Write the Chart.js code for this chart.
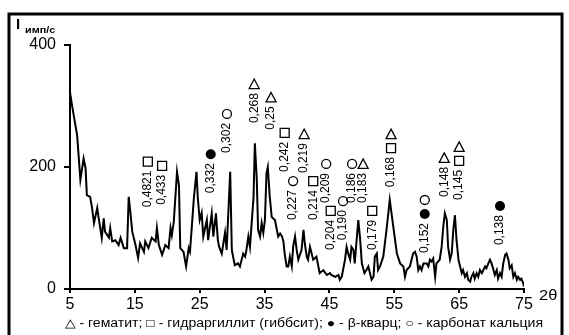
<!DOCTYPE html>
<html>
<head>
<meta charset="utf-8">
<script src="https://cdn.jsdelivr.net/npm/chart.js@4/dist/chart.umd.min.js"></script>
<style>
  html, body { margin: 0; padding: 0; background: #fff; }
  canvas { display: block; }
</style>
</head>
<body>
<canvas id="xrd" width="569" height="335"></canvas>
<script>
const twoTheta = [5.0,5.3,6.1,6.6,7.1,7.4,7.6,8.1,8.4,8.7,
  9.2,9.4,9.9,10.2,10.4,11.0,11.2,11.5,12.0,12.5,
  12.8,13.3,13.8,14.05,14.3,14.6,15.1,15.5,15.8,16.4,
  16.6,17.1,17.6,18.2,18.4,18.7,19.2,19.7,20.2,20.5,
  20.7,21.0,21.5,21.8,22.0,22.5,22.9,23.3,23.5,24.1,
  24.5,24.7,25.0,25.3,25.55,26.1,26.3,26.85,27.1,27.5,
  27.8,28.0,28.4,28.9,29.15,29.7,29.95,30.4,30.9,31.2,
  31.7,32.0,32.2,32.5,32.75,33.3,33.5,33.8,34.0,34.3,
  34.55,34.8,35.05,35.3,35.5,35.8,36.1,36.6,36.9,37.1,
  37.4,37.7,37.9,38.1,38.4,38.65,38.9,39.2,39.4,39.7,
  39.95,40.2,40.7,41.0,41.2,41.5,41.7,42.0,42.5,43.0,
  43.5,44.05,44.6,45.1,45.3,45.9,46.4,46.6,46.9,47.4,
  47.65,47.9,48.2,48.4,48.7,48.9,49.45,49.7,50.0,50.4,
  50.7,51.0,51.25,51.5,51.8,52.0,52.3,52.5,52.8,53.3,
  53.8,54.3,54.85,55.4,55.9,56.4,56.65,56.9,57.4,57.9,
  58.2,58.45,58.7,58.95,59.2,59.5,60.0,60.25,60.5,60.75,
  61.0,61.3,61.5,62.0,62.3,62.55,62.8,63.1,63.3,63.6,
  63.85,64.1,64.35,64.6,64.9,65.4,65.6,65.9,66.2,66.4,
  66.7,66.9,67.2,67.4,67.7,67.95,68.2,68.5,69.0,69.2,
  69.5,69.75,70.0,70.3,70.5,70.8,71.0,71.3,71.55,71.8,
  72.1,72.3,72.6,72.8,73.1,73.35,73.6,73.9,74.1,74.4,
  74.6,74.9,75.0];

const intensity = [323,302,252,179,214,198,154,151,133,108,
  133,118,84,116,94,84,100,78,80,72,
  84,67,67,151,127,94,72,51,75,61,
  78,67,84,78,100,72,56,72,67,100,
  88,110,192,170,67,61,37,67,61,149,
  192,150,113,125,86,113,80,124,86,124,
  80,69,58,92,64,192,64,39,42,37,
  58,53,64,86,69,151,239,179,97,86,
  108,92,113,190,200,151,118,113,97,86,
  91,86,78,58,37,37,53,37,69,86,
  64,48,64,97,75,53,48,69,48,53,
  26,31,23,26,23,20,23,15,20,48,
  69,58,48,69,64,42,113,86,42,26,
  31,37,26,15,20,53,58,31,37,53,
  97,146,102,58,42,37,20,31,37,58,
  61,53,31,37,31,42,42,37,48,45,
  50,20,42,48,69,102,124,113,69,48,
  58,97,121,80,48,26,31,20,26,15,
  12,20,26,17,26,20,31,26,37,34,
  42,48,42,31,23,31,17,26,20,42,
  56,58,48,34,39,20,26,15,20,15,
  17,9,4];

const xTickValues = [5, 15, 25, 35, 45, 55, 65, 75];
const yTickValues = [0, 200, 400];

// d-spacing labels: position (2θ), intensity where the text starts, text, phase marks (top to bottom)
const peakPos   = [17.0, 19.2, 26.7, 29.2, 33.4, 36.0, 38.1, 41.1, 39.4, 42.5, 44.5, 45.2, 47.1, 48.5, 50.2, 51.6, 54.5, 59.7, 62.7, 65.0, 71.3];
const peakBase  = [134, 138, 157, 223, 272, 261, 192, 190, 113, 113, 141, 64, 80, 141, 141, 64, 167, 59, 151, 146, 72];
const peakText  = ['0,4821', '0,433', '0,332', '0,302', '0,268', '0,25', '0,242', '0,219', '0,227', '0,214', '0,209',
                   '0,204', '0,190', '0,186', '0,183', '0,179', '0,168', '0,152', '0,148', '0,145', '0,138'];
const peakPhase = [['sq'], ['sq'], ['dot'], ['circ'], ['tri'], ['tri'], ['sq'], ['tri'], ['circ'], ['sq'], ['circ'],
                   ['sq'], ['circ'], ['circ'], ['tri'], ['sq'], ['tri', 'sq'], ['circ', 'dot'], ['tri'], ['tri', 'sq'], ['dot']];

const legendText = '△ - гематит; □ - гидраргиллит (гиббсит); ● - β-кварц; ○ - карбонат кальция';

const FONT = 'Arial, "Liberation Sans", sans-serif';

function drawMark(ctx, kind, x, y) {
    ctx.save();
    ctx.strokeStyle = '#000';
    ctx.fillStyle = '#000';
    ctx.lineWidth = 1.3;
    ctx.beginPath();
    if (kind === 'sq') {
        ctx.rect(x - 4.5, y - 4.5, 9, 9);
        ctx.stroke();
    } else if (kind === 'tri') {
        ctx.moveTo(x, y - 5);
        ctx.lineTo(x + 5, y + 4.5);
        ctx.lineTo(x - 5, y + 4.5);
        ctx.closePath();
        ctx.stroke();
    } else if (kind === 'dot') {
        ctx.arc(x, y, 5, 0, Math.PI * 2);
        ctx.fill();
    } else {
        ctx.arc(x, y, 4.5, 0, Math.PI * 2);
        ctx.stroke();
    }
    ctx.restore();
}

// text slightly widened, like the source picture
function wideText(ctx, text, x, y, sx) {
    ctx.save();
    ctx.translate(x, y);
    ctx.scale(sx, 1);
    ctx.fillText(text, 0, 0);
    ctx.restore();
}

const framePlugin = {
    id: 'frame',
    beforeDraw(chart) {
        const ctx = chart.ctx;
        ctx.save();
        ctx.fillStyle = '#fff';
        ctx.fillRect(0, 0, chart.width, chart.height);
        ctx.strokeStyle = '#000';
        ctx.lineWidth = 3;
        ctx.strokeRect(9, 14, 553, 340);
        ctx.restore();
    },
    afterDraw(chart) {
        const ctx = chart.ctx;
        const xs = chart.scales.x;
        const ys = chart.scales.y;
        ctx.save();
        ctx.fillStyle = '#000';

        // peak labels
        ctx.font = '12px ' + FONT;
        peakPos.forEach((pos, i) => {
            const x = xs.getPixelForValue(pos);
            const y = ys.getPixelForValue(peakBase[i]);
            const w = ctx.measureText(peakText[i]).width;
            ctx.save();
            ctx.translate(x, y);
            ctx.rotate(-Math.PI / 2);
            ctx.textAlign = 'left';
            ctx.textBaseline = 'middle';
            ctx.fillText(peakText[i], 0, 0);
            ctx.restore();
            let my = y - w - 9;
            for (let k = peakPhase[i].length - 1; k >= 0; k--) {
                drawMark(ctx, peakPhase[i][k], x, my);
                my -= 14;
            }
        });

        // axis captions
        ctx.textBaseline = 'alphabetic';
        ctx.textAlign = 'left';
        ctx.font = 'bold 15px ' + FONT;
        ctx.fillText('I', 16, 29);
        ctx.font = 'bold 9px ' + FONT;
        wideText(ctx, 'имп/с', 25, 33, 1.2);

        ctx.font = '15px ' + FONT;
        ctx.textBaseline = 'middle';
        wideText(ctx, '2θ', 539, 296, 1.1);

        ctx.font = '12px ' + FONT;
        wideText(ctx, legendText, 65, 324, 1.17);
        ctx.restore();
    }
};

const points = twoTheta.map((t, i) => ({ x: t, y: intensity[i] }));

new Chart(document.getElementById('xrd'), {
    type: 'line',
    data: {
        datasets: [
            {
                data: points,
                borderColor: '#000',
                borderWidth: 2,
                pointRadius: 0,
                tension: 0
            }
        ]
    },
    options: {
        responsive: false,
        animation: false,
        layout: {
            padding: { top: 45, right: 45, left: 0, bottom: 0 }
        },
        plugins: {
            legend: { display: false },
            tooltip: { enabled: false }
        },
        scales: {
            x: {
                type: 'linear',
                min: 5,
                max: 75,
                afterBuildTicks: (scale) => { scale.ticks = xTickValues.map(v => ({ value: v })); },
                afterFit: (scale) => { scale.height = 46; },
                ticks: { color: '#000', padding: 2, font: { family: FONT, size: 16 } },
                grid: { drawOnChartArea: false, color: '#000', lineWidth: 2, tickLength: 4 },
                border: { color: '#000', width: 2 }
            },
            y: {
                min: 0,
                max: 400,
                afterBuildTicks: (scale) => { scale.ticks = yTickValues.map(v => ({ value: v })); },
                afterFit: (scale) => { scale.width = 70; },
                ticks: { color: '#000', padding: 8, font: { family: FONT, size: 16 } },
                grid: { drawOnChartArea: false, color: '#000', lineWidth: 2, tickLength: 6 },
                border: { color: '#000', width: 2 }
            }
        }
    },
    plugins: [framePlugin]
});
</script>
</body>
</html>
